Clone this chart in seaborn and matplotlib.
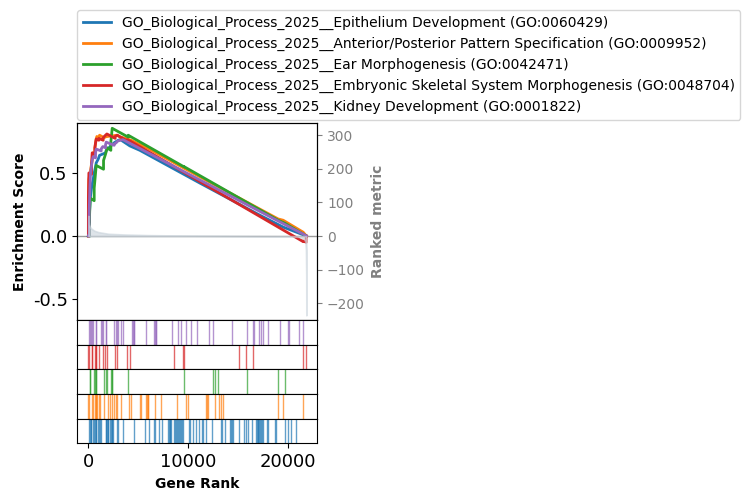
import matplotlib
matplotlib.use("Agg")
import matplotlib.pyplot as plt
import matplotlib.ticker as mticker
import pandas as pd
import seaborn as sns

terms = [
    "GO_Biological_Process_2025__Epithelium Development (GO:0060429)",
    "GO_Biological_Process_2025__Anterior/Posterior Pattern Specification (GO:0009952)",
    "GO_Biological_Process_2025__Ear Morphogenesis (GO:0042471)",
    "GO_Biological_Process_2025__Embryonic Skeletal System Morphogenesis (GO:0048704)",
    "GO_Biological_Process_2025__Kidney Development (GO:0001822)",
]
colors = ["#1f77b4", "#ff7f0e", "#2ca02c", "#d62728", "#9467bd"]

n_genes = 21800

# ranked metric (rank -> metric)
metric_rank = [0, 20, 60, 150, 300, 600, 1000, 2000, 3500, 6000, 10000, 15000,
               20000, 21000, 21500, 21700, 21760, 21790, 21799]
metric_value = [60, 45, 35, 28, 22, 16, 12, 7, 5, 3, 1.5, 0.5,
                -0.5, -2, -6, -15, -40, -120, -235]

# running enrichment score, per gene set
epi_rank = [0, 82, 83, 150, 217, 350, 483, 583, 717, 783, 983, 1117, 1717, 1783,
            2183, 2583, 2983, 3200, 4150, 5150, 11150, 17150, 19500, 21799]
epi_es = [0, -0.002, 0.14, 0.24, 0.32, 0.40, 0.45, 0.50, 0.55, 0.58, 0.61, 0.64,
          0.66, 0.68, 0.71, 0.74, 0.76, 0.765, 0.715, 0.68, 0.42, 0.165, 0.07, 0.0]

ap_rank = [0, 1, 50, 383, 450, 649, 650, 783, 850, 1049, 1117, 1582, 1583, 1917,
           2383, 2883, 3282, 3283, 4283, 5183, 5983, 9983, 13483, 18983, 19483,
           21483, 21799]
ap_es = [0, 0.25, 0.45, 0.60, 0.66, 0.65, 0.70, 0.77, 0.79, 0.78, 0.80, 0.78,
         0.785, 0.79, 0.795, 0.80, 0.78, 0.785, 0.76, 0.725, 0.695, 0.52, 0.37,
         0.135, 0.125, 0.03, 0.0]

ear_rank = [0, 116, 117, 183, 582, 583, 650, 717, 783, 1516, 1517, 1717, 1883,
            2249, 2250, 2317, 2383, 3982, 3983, 9582, 9583, 12683, 15883, 18983,
            19683, 21799]
ear_es = [0, -0.002, 0.16, 0.30, 0.28, 0.38, 0.44, 0.50, 0.56, 0.53, 0.60, 0.65,
          0.70, 0.68, 0.75, 0.80, 0.855, 0.785, 0.80, 0.548, 0.55, 0.41, 0.265,
          0.125, 0.10, 0.0]

emb_rank = [0, 1, 50, 316, 317, 383, 649, 650, 717, 783, 1049, 1050, 1482, 1483,
            1650, 1850, 2682, 2683, 2883, 3882, 3883, 4150, 21482, 21483, 21782,
            21783, 21799]
emb_es = [0, 0.30, 0.50, 0.49, 0.58, 0.66, 0.65, 0.70, 0.74, 0.77, 0.76, 0.775,
          0.76, 0.78, 0.795, 0.81, 0.775, 0.79, 0.80, 0.755, 0.765, 0.755, -0.045,
          -0.04, -0.05, 0.0, 0.0]

kid_rank = [0, 82, 83, 150, 217, 383, 483, 716, 717, 783, 1282, 1283, 1350, 1450,
            1716, 1717, 1783, 2582, 2583, 2783, 2883, 2983, 3217, 3450, 21483,
            21799]
kid_es = [0, -0.002, 0.20, 0.38, 0.50, 0.60, 0.63, 0.62, 0.66, 0.69, 0.675, 0.69,
          0.70, 0.71, 0.70, 0.725, 0.745, 0.72, 0.73, 0.74, 0.75, 0.755, 0.76,
          0.765, 0.015, 0.0]

# hit positions, per gene set
epi_hits = [83, 150, 217, 283, 483, 583, 650, 717, 783, 983, 1083, 1150, 1217,
            1717, 1783, 1850, 1917, 1983, 2183, 2250, 2317, 2383, 2450, 2883,
            2950, 3483, 4583, 5683, 6083, 6583, 6650, 7083, 7383, 7983, 8050,
            8117, 8183, 8250, 8583, 8683, 8783, 8883, 8983, 9083, 9183, 9250,
            9383, 9483, 10083, 10150, 10483, 10783, 11083, 11383, 11483, 11783,
            12383, 13283, 13383, 13683, 14183, 14283, 14383, 14483, 15083, 15583,
            15783, 15983, 16383, 16783, 16850, 16917, 16983, 17083, 17183, 17283,
            17383, 17483, 17883, 17983, 18683, 18783, 19683, 19983, 20283, 20783]
ap_hits = [0, 50, 383, 450, 650, 717, 783, 850, 1050, 1117, 1583, 1917, 2183, 2383,
           2583, 2783, 2883, 3283, 4083, 4283, 5183, 5250, 5783, 5850, 5917, 5983,
           6683, 7283, 8883, 9783, 9983, 11783, 11850, 11917, 12683, 13083, 13283,
           13483, 18983, 19483, 21483]
ear_hits = [117, 183, 583, 650, 717, 783, 1517, 1717, 1883, 2250, 2317, 2383,
            3983, 9583, 12483, 12683, 12983, 15883, 18983, 19683]
emb_hits = [0, 50, 317, 383, 650, 717, 783, 1050, 1483, 1650, 1850, 2683, 2883,
            3883, 4150, 8583, 9483, 9550, 15083, 15783, 16483, 21483, 21783]
kid_hits = [83, 150, 217, 383, 483, 717, 783, 1283, 1350, 1450, 1717, 1783, 2583,
            2783, 2883, 2983, 3217, 3450, 4383, 4450, 4517, 4583, 5783, 6583,
            6650, 6717, 6783, 8383, 8983, 9250, 9750, 10283, 10883, 12083, 12450,
            14383, 15883, 16483, 16550, 17050, 17250, 17450, 17983, 19183, 19983,
            20050, 21083, 21483]

es_ranks = [epi_rank, ap_rank, ear_rank, emb_rank, kid_rank]
es_values = [epi_es, ap_es, ear_es, emb_es, kid_es]
hits = [epi_hits, ap_hits, ear_hits, emb_hits, kid_hits]

frames = []
for term, r, e in zip(terms, es_ranks, es_values):
    frames.append(pd.DataFrame({"term": term, "rank": r, "es": e}))
df = pd.concat(frames, ignore_index=True)

fig = plt.figure(figsize=(7.5, 5.01), dpi=100)
left, width = 0.1033, 0.3197
ax = fig.add_axes([left, 0.3613, width, 0.3932])

xlim = (-0.05 * n_genes, 1.05 * n_genes)

sns.lineplot(data=df, x="rank", y="es", hue="term", hue_order=terms,
             palette=colors, estimator=None, sort=False, lw=2, ax=ax)
ax.axhline(0, color="#9a9a9a", lw=1, zorder=0)
ax.set_xlim(xlim)
ax.set_ylim(-0.667, 0.897)
ax.set_xticks([])
ax.set_xlabel("")
ax.yaxis.set_major_locator(mticker.FixedLocator([-0.5, 0.0, 0.5]))
ax.yaxis.set_major_formatter(mticker.FixedFormatter(["-0.5", "0.0", "0.5"]))
ax.tick_params(axis="y", labelsize=13)
ax.set_ylabel("Enrichment Score", fontweight="bold", fontsize=10)

handles, labels = ax.get_legend_handles_labels()
ax.get_legend().remove()
ax.legend(handles, labels, loc="lower left", bbox_to_anchor=(0, 1.015),
          borderaxespad=0, fontsize=10)

ax2 = ax.twinx()
ax2.fill_between(metric_rank, metric_value, 0, color="#C9D3DB", alpha=0.6, lw=1.2)
ax2.set_ylim(-249, 336)
ax2.set_xlim(xlim)
ax2.tick_params(axis="y", colors="grey", labelsize=10)
ax2.set_ylabel("Ranked metric", fontweight="bold", fontsize=10, color="grey")

# hit strips, top to bottom: last term first
strip_h = 0.0492
for i, idx in enumerate(range(len(terms) - 1, -1, -1)):
    bottom = 0.3613 - strip_h * (i + 1)
    axs = fig.add_axes([left, bottom, width, strip_h])
    sns.rugplot(x=hits[idx], ax=axs, color=colors[idx], height=1, alpha=0.7,
                lw=0.8, expand_margins=False)
    axs.set_xlim(xlim)
    axs.set_ylim(0, 1)
    axs.set_yticks([])
    if idx == 0:
        axs.set_xticks([0, 10000, 20000])
        axs.tick_params(axis="x", labelsize=13)
        axs.set_xlabel("Gene Rank", fontweight="bold", fontsize=10)
    else:
        axs.set_xticks([])

fig.savefig("out.png", dpi=100)
